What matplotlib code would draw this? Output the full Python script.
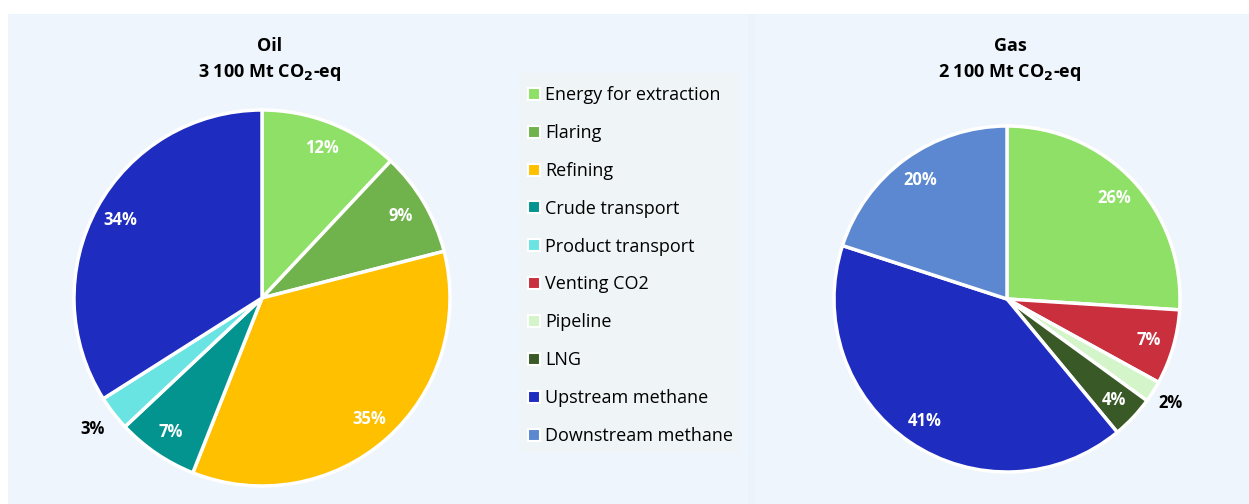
import numpy as np
import matplotlib.pyplot as plt
from matplotlib.patches import Rectangle
from matplotlib.lines import Line2D

plt.rcParams['font.family'] = ['Open Sans', 'DejaVu Sans']

# Data
oil_labels = ['Energy for extraction', 'Flaring', 'Refining', 'Crude transport',
              'Product transport', 'Upstream methane']
oil_values = [12, 9, 35, 7, 3, 34]
gas_labels = ['Energy for extraction', 'Venting CO2', 'Pipeline', 'LNG',
              'Upstream methane', 'Downstream methane']
gas_values = [26, 7, 2, 4, 41, 20]
legend_labels = ['Energy for extraction', 'Flaring', 'Refining', 'Crude transport',
                 'Product transport', 'Venting CO2', 'Pipeline', 'LNG',
                 'Upstream methane', 'Downstream methane']

colors = {
    'Energy for extraction': '#8fe066',
    'Flaring': '#70b24c',
    'Refining': '#ffc000',
    'Crude transport': '#049490',
    'Product transport': '#6ae4e2',
    'Venting CO2': '#c92f3d',
    'Pipeline': '#d3f5c9',
    'LNG': '#395a27',
    'Upstream methane': '#1f2cc0',
    'Downstream methane': '#5b88d0',
}

W, H = 1249, 504
fig = plt.figure(figsize=(W / 100, H / 100), dpi=100)
fig.patch.set_facecolor('white')

# background axes in pixel coords (y from top)
bg = fig.add_axes([0, 0, 1, 1], zorder=-1)
bg.set_xlim(0, W)
bg.set_ylim(H, 0)
bg.axis('off')
bg.add_patch(Rectangle((8, 14), 740, 490, facecolor='#eef5fc', edgecolor='none'))
bg.add_patch(Rectangle((755, 14), 494, 490, facecolor='#eef5fc', edgecolor='none'))
bg.add_patch(Rectangle((748, 14), 7, 490, facecolor='#ebf3fc', edgecolor='none'))
# legend box background
bg.add_patch(Rectangle((520, 73), 219, 380, facecolor='#eff4f7', edgecolor='none'))


def draw_pie(cx, cy, r, labels, values, title, title_x, pctdist, small_dist):
    lim = 1.3
    size = 2 * r * lim
    ax = fig.add_axes([(cx - size / 2) / W, 1 - (cy + size / 2) / H, size / W, size / H],
                      zorder=1)
    wedges, _ = ax.pie(values, colors=[colors[l] for l in labels], startangle=90,
                       counterclock=False, radius=1,
                       wedgeprops=dict(edgecolor='white', linewidth=2.5))
    ax.set_xlim(-lim, lim)
    ax.set_ylim(-lim, lim)
    ax.set_aspect('equal')
    ax.axis('off')
    for w, v in zip(wedges, values):
        ang = np.deg2rad((w.theta1 + w.theta2) / 2)
        if v <= 3:
            d, col = small_dist, 'black'
        else:
            d, col = pctdist, 'white'
        ax.text(d * np.cos(ang), d * np.sin(ang), f'{v}%', ha='center', va='center',
                fontsize=12, fontweight='bold', color=col)
    fig.text(title_x / W, 1 - 60 / H, title, ha='center', va='center', fontsize=13,
             fontweight='bold', linespacing=1.5)
    return ax


draw_pie(262, 298, 188, oil_labels, oil_values, 'Oil\n3 100 Mt CO$_\\mathbf{2}$-eq',
         270, 0.86, 1.14)
draw_pie(1007, 299, 173, gas_labels, gas_values, 'Gas\n2 100 Mt CO$_\\mathbf{2}$-eq',
         1010, 0.85, 1.12)

handles = [Line2D([], [], marker='s', linestyle='none', markersize=8,
                  markerfacecolor=colors[l], markeredgecolor='white', markeredgewidth=1.5)
           for l in legend_labels]
leg = fig.legend(handles, legend_labels, loc='upper left',
                 bbox_to_anchor=(520 / W, 1 - 78 / H), frameon=False, fontsize=13,
                 handlelength=0.6, handletextpad=0.35, labelspacing=1.1,
                 borderpad=0.45, borderaxespad=0)

fig.savefig('out.png', dpi=100, facecolor=fig.get_facecolor())
